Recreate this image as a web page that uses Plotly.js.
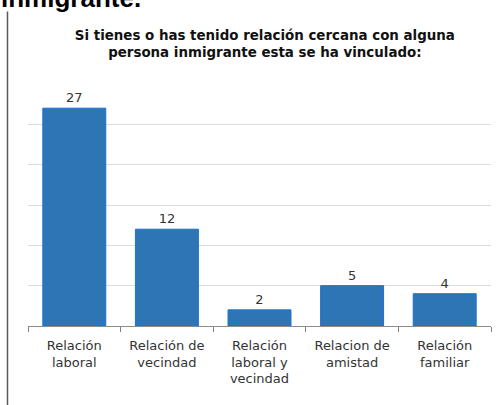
<!DOCTYPE html>
<html>
<head>
<meta charset="utf-8">
<script src="https://cdn.plot.ly/plotly-3.0.1.min.js"></script>
<style>
  html, body { margin: 0; padding: 0; background: #fff; }
  #chart { width: 496px; height: 405px; }
</style>
</head>
<body>
<div id="chart"></div>
<script>
// Tipos de relacion con personas inmigrantes (conteo de respuestas)
const categorias = [
  'Relación<br>laboral',
  'Relación de<br>vecindad',
  'Relación<br>laboral y<br>vecindad',
  'Relacion de<br>amistad',
  'Relación<br>familiar',
];
const valores = [27, 12, 2, 5, 4];
const titulo = 'Si tienes o has tenido relación cercana con alguna<br>persona inmigrante esta se ha vinculado:';
const encabezado = 'inmigrante.';

const FONT = 'DejaVu Sans, Verdana, sans-serif';

const trace = {
  x: categorias,
  y: valores,
  type: 'bar',
  text: valores.map(String),
  textposition: 'outside',
  cliponaxis: false,
  textfont: { family: FONT, size: 13, color: '#333' },
  marker: { color: '#2E75B6', line: { color: '#1F6FD6', width: 1 } },
  hoverinfo: 'x+y',
};

const layout = {
  width: 496,
  height: 405,
  margin: { l: 28, r: 5, t: 84, b: 79 },
  paper_bgcolor: '#ffffff',
  plot_bgcolor: '#ffffff',
  showlegend: false,
  bargap: 0.32,
  title: {
    text: '<b>' + titulo + '</b>',
    font: { family: FONT, size: 13.4, color: '#111' },
    x: 0.534, xanchor: 'center',
    y: 0.902, yanchor: 'middle',
  },
  xaxis: {
    tickfont: { family: FONT, size: 13, color: '#333' },
    tickson: 'boundaries',
    ticks: 'outside',
    ticklen: 5,
    tickcolor: '#7f7f7f',
    ticklabelstandoff: 7,
    showline: true,
    linecolor: '#8c8c8c',
    linewidth: 1,
    showgrid: false,
    fixedrange: true,
  },
  yaxis: {
    range: [0, 30],
    dtick: 5,
    showticklabels: false,
    showgrid: true,
    gridcolor: '#dcdcdc',
    zeroline: false,
    showline: false,
    fixedrange: true,
  },
  shapes: [{
    type: 'line', xref: 'paper', yref: 'paper',
    x0: -0.0443, x1: -0.0443, y0: -0.33, y1: 1.30,
    line: { color: '#5a5a5a', width: 1.5 },
  }],
  annotations: [{
    text: '<b>' + encabezado + '</b>',
    xref: 'paper', yref: 'paper',
    x: -0.062, xanchor: 'left',
    y: 1.287, yanchor: 'bottom',
    showarrow: false,
    font: { family: 'Liberation Sans, Arial, sans-serif', size: 26, color: '#000' },
  }],
};

Plotly.newPlot('chart', [trace], layout, { displayModeBar: false, staticPlot: true });
</script>
</body>
</html>
